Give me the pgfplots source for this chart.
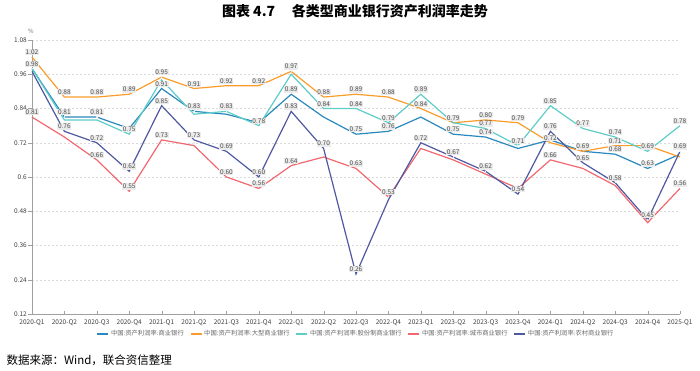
\documentclass[border=0pt]{standalone}
\usepackage{pgfplots}
\usepackage{pgfplotstable}
\pgfplotsset{compat=1.18}
\usepackage{fontspec}
\setmainfont{Noto Sans CJK SC}
\definecolor{cTeal}{RGB}{41,136,189}
\definecolor{cOrange}{RGB}{250,156,44}
\definecolor{cCyan}{RGB}{94,205,200}
\definecolor{cRed}{RGB}{242,104,112}
\definecolor{cPurple}{RGB}{78,89,160}
\definecolor{cGrid}{RGB}{218,218,218}
\definecolor{cAxis}{RGB}{160,160,160}

\pgfplotstableread{
i com big joint city rural
0 0.98 1.02 0.98 0.81 0.97
1 0.81 0.88 0.80 0.74 0.76
2 0.81 0.88 0.80 0.66 0.72
3 0.77 0.89 0.75 0.55 0.62
4 0.91 0.95 0.94 0.73 0.85
5 0.83 0.91 0.82 0.71 0.73
6 0.82 0.92 0.83 0.60 0.69
7 0.79 0.92 0.78 0.56 0.60
8 0.89 0.97 0.96 0.64 0.83
9 0.81 0.88 0.84 0.67 0.70
10 0.75 0.89 0.84 0.63 0.26
11 0.76 0.88 0.79 0.53 0.52
12 0.81 0.84 0.89 0.70 0.72
13 0.75 0.79 0.79 0.66 0.67
14 0.74 0.80 0.77 0.61 0.62
15 0.70 0.79 0.71 0.56 0.54
16 0.73 0.72 0.85 0.66 0.76
17 0.69 0.69 0.77 0.63 0.65
18 0.68 0.71 0.74 0.57 0.58
19 0.63 0.71 0.69 0.44 0.45
20 0.68 0.67 0.78 0.56 0.69
}\datatable

\begin{document}
\begin{tikzpicture}
\path[use as bounding box] (0pt,0pt) rectangle (700pt,370pt);
\node[font=\fontsize{14}{16}\selectfont\bfseries] at (355pt,359pt) {图表 4.7\hspace{1.2em}各类型商业银行资产利润率走势};
\node[anchor=west, font=\fontsize{11.5}{13}\selectfont] at (3pt,10pt) {数据来源：Wind，联合资信整理};
\node[font=\fontsize{6}{7}\selectfont, text=black!55] at (31pt,339pt) {\%};
\begin{axis}[
  at={(32pt,56pt)}, anchor=south west,
  scale only axis, width=648pt, height=274pt,
  xmin=0, xmax=20, ymin=0.12, ymax=1.08,
  axis lines*=left,
  axis line style={cAxis, -, line width=0.6pt},
  xtick={0,...,20},
  xticklabels={2020-Q1,2020-Q2,2020-Q3,2020-Q4,2021-Q1,2021-Q2,2021-Q3,2021-Q4,2022-Q1,2022-Q2,2022-Q3,2022-Q4,2023-Q1,2023-Q2,2023-Q3,2023-Q4,2024-Q1,2024-Q2,2024-Q3,2024-Q4,2025-Q1},
  ytick={0.12,0.24,0.36,0.48,0.6,0.72,0.84,0.96,1.08},
  yticklabels={0.12,0.24,0.36,0.48,0.6,0.72,0.84,0.96,1.08},
  ticklabel style={font=\fontsize{6.5}{7}\selectfont, text=black!75},
  tick align=center, major tick length=3.5pt,
  xtick style={cAxis, yshift=1.75pt},
  ytick style={cAxis, xshift=-1.75pt},
  ymajorgrids, grid style={cGrid, dash pattern=on 2pt off 2pt, line width=0.5pt},
  /pgf/number format/assume math mode=true,
  legend style={at={(0.5,-0.073)}, anchor=center, legend columns=5, draw=none, fill=none,
    font=\fontsize{6.3}{7}\selectfont, text=black!60,
    /tikz/every even column/.append style={column sep=4pt}},
  legend image code/.code={\draw[#1, line width=1.4pt] (0pt,0pt) -- (11pt,0pt);},
  every node near coord/.style={font=\fontsize{6.5}{7}\selectfont, text=black!70, fill=black!8, inner sep=0.7pt, anchor=south, yshift=1.5pt},
  nodes near coords={\pgfmathprintnumber[fixed,fixed zerofill,precision=2]{\pgfplotspointmeta}},
  clip=false,
]
\addplot[cTeal, line width=1.2pt, no marks, nodes near coords={}] table[x=i, y=com] {\datatable};
\addlegendentry{中国:资产利润率:商业银行}
\addplot[cOrange, line width=1.2pt, no marks, nodes near coords={}] table[x=i, y=big] {\datatable};
\addlegendentry{中国:资产利润率:大型商业银行}
\addplot[cCyan, line width=1.2pt, no marks, nodes near coords={}] table[x=i, y=joint] {\datatable};
\addlegendentry{中国:资产利润率:股份制商业银行}
\addplot[cRed, line width=1.2pt, no marks, nodes near coords={}] table[x=i, y=city] {\datatable};
\addlegendentry{中国:资产利润率:城市商业银行}
\addplot[cPurple, line width=1.2pt, no marks, nodes near coords={}] table[x=i, y=rural] {\datatable};
\addlegendentry{中国:资产利润率:农村商业银行}

% data labels
\addplot[draw=none, no marks, forget plot, point meta=y] coordinates {(0,1.02)(1,0.88)(2,0.88)(3,0.89)(4,0.95)(5,0.91)(6,0.92)(7,0.92)(8,0.97)(9,0.88)(10,0.89)(11,0.88)(12,0.84)(14,0.80)(15,0.79)(16,0.72)(17,0.69)(18,0.71)};
\addplot[draw=none, no marks, forget plot, point meta=y] coordinates {(0,0.98)(1,0.81)(2,0.81)(4,0.91)(5,0.83)(8,0.89)(10,0.75)(11,0.76)(13,0.75)(14,0.74)(18,0.68)(19,0.63)};
\addplot[draw=none, no marks, forget plot, point meta=y] coordinates {(3,0.75)(6,0.83)(7,0.78)(9,0.84)(10,0.84)(11,0.79)(12,0.89)(13,0.79)(14,0.77)(15,0.71)(16,0.85)(17,0.77)(18,0.74)(19,0.69)(20,0.78)};
\addplot[draw=none, no marks, forget plot, point meta=y] coordinates {(0,0.81)(2,0.66)(3,0.55)(4,0.73)(6,0.60)(7,0.56)(8,0.64)(10,0.63)(11,0.53)(16,0.66)(20,0.56)};
\addplot[draw=none, no marks, forget plot, point meta=y] coordinates {(1,0.76)(2,0.72)(3,0.62)(4,0.85)(5,0.73)(6,0.69)(7,0.60)(8,0.83)(9,0.70)(10,0.26)(12,0.72)(13,0.67)(14,0.62)(15,0.54)(16,0.76)(17,0.65)(18,0.58)(19,0.45)(20,0.69)};
\end{axis}
\end{tikzpicture}
\end{document}
